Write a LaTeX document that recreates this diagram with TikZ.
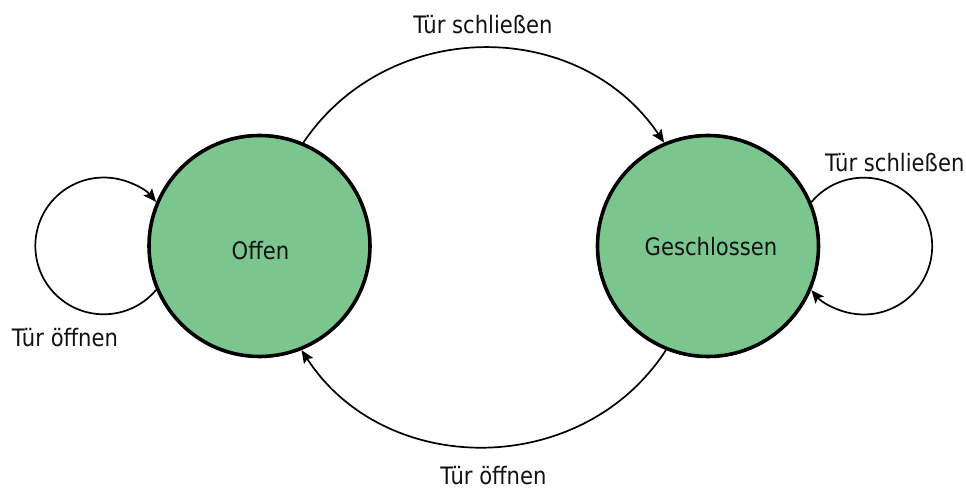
\documentclass[tikz,border=0pt]{standalone}
\usepackage{fontspec}
\setmainfont{DejaVu Sans}[FakeStretch=0.88]
\usetikzlibrary{arrows.meta}

\definecolor{statefill}{HTML}{7BC68F}
\definecolor{ink}{HTML}{111111}

\tikzset{
  state/.style={circle, draw=black, line width=3.6pt, fill=statefill,
    minimum size=221pt, inner sep=0pt},
  trans/.style={draw=black, line width=1.7pt,
    -{Stealth[length=13pt, width=11pt, inset=2.5pt]}},
  lbl/.style={inner sep=0pt, text=ink, font=\fontsize{24}{28}\selectfont}
}

\begin{document}
\begin{tikzpicture}[x=1pt, y=1pt]
  \useasboundingbox (0,0) rectangle (966,489);

  % the two states
  \node[state] (offen) at (259.5,243) {};
  \node[state] (geschl) at (708,243) {};
  \node[lbl, anchor=base] (tOffen) at (260.5,229.8) {Offen};
  \node[lbl, anchor=base] (tGeschl) at (711,233.7) {Geschlossen};

  % transitions between the states
  \draw[trans] (offen.67) to[out=56, in=124, looseness=1.08] (geschl.113);
  \draw[trans] (geschl.248) to[out=-123, in=-57, looseness=1.08] (offen.292);

  % self loops
  \draw[trans] (offen.203) arc[start angle=-40, end angle=-320, radius=68.4];
  \draw[trans] (geschl.23) arc[start angle=140, end angle=-140, radius=68.4];

  % transition labels
  \node[lbl, anchor=base] (lTop) at (483,455) {Tür schließen};
  \node[lbl, anchor=base] (lBot) at (493.5,4) {Tür öffnen};
  \node[lbl, anchor=base] (lLeft) at (65,142) {Tür öffnen};
  \node[lbl, anchor=base west] (lRight) at (825,317) {Tür schließen};
\end{tikzpicture}
\end{document}
